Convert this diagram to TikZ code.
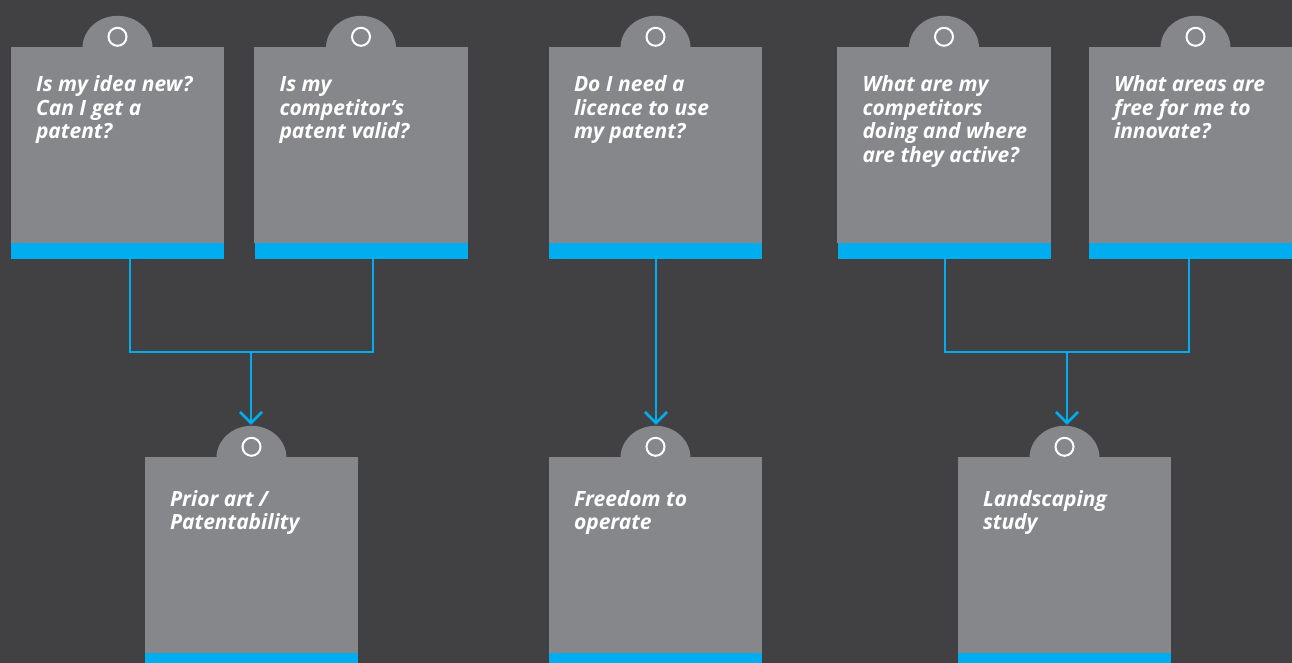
\documentclass[tikz,border=0pt]{standalone}
\usepackage{fontspec}
\setmainfont{Open Sans}
\usetikzlibrary{arrows.meta,calc}
\definecolor{bgc}{RGB}{65,65,67}
\definecolor{cardc}{RGB}{134,135,139}
\definecolor{bluec}{RGB}{0,174,239}
\tikzset{
  cardbody/.style={rectangle, inner sep=0pt, minimum width=213pt, minimum height=212pt, fill=bluec},
  cardtext/.style={anchor=north west, inner sep=0pt, align=left, text=white,
     font=\fontsize{21}{23.5}\selectfont\bfseries\itshape},
  conn/.style={draw=bluec, line width=2.6pt},
  arr/.style={-{Straight Barb[length=11pt,width=22pt,line width=2.6pt]}}
}
\newcommand\mkcard[5]{%
  \node[cardbody] (#1) at (#2,#3+106) {};
  \fill[cardc] (#1.north west) rectangle ([yshift=16pt]#1.south east);
  \fill[cardc] ([xshift=-35pt,yshift=-1pt]#1.north) arc[start angle=180,end angle=0,x radius=35pt,y radius=32pt] -- cycle;
  \draw[white,line width=2pt] ([yshift=10pt]#1.north) circle[radius=9pt];
  \node[cardtext] (#1t) at ([xshift=25pt,yshift=-#5pt+16.45pt]#1.north west) {\strut#4};
}
\begin{document}
\begin{tikzpicture}[x=1pt,y=-1pt]
\fill[bgc] (0,0) rectangle (1292,663);
\useasboundingbox (0,0) rectangle (1292,663);
\clip (0,0) rectangle (1292,663);
\mkcard{q1}{117.5}{47}{Is my idea new?\\Can I get a\\patent?}{45}
\mkcard{q2}{361}{47}{Is my\\competitor’s\\patent valid?}{45}
\mkcard{q3}{655.5}{47}{Do I need a\\licence to use\\my patent?}{45}
\mkcard{q4}{944}{47}{What are my\\competitors\\doing and where\\are they active?}{45}
\mkcard{q5}{1195.5}{47}{What areas are\\free for me to\\innovate?}{45}
\mkcard{b1}{251.5}{457}{Prior art /\\Patentability}{49}
\mkcard{b2}{655.5}{457}{Freedom to\\operate}{49}
\mkcard{b3}{1064.5}{457}{Landscaping\\study}{49}
\coordinate (m1) at (251,352);
\coordinate (m3) at (1067,352);
\draw[conn] ([xshift=12.5pt]q1.south) |- (m1) -| ([xshift=12pt]q2.south);
\draw[conn,arr] (m1) -- ([yshift=32pt]m1 |- b1.north);
\draw[conn,arr] ([xshift=0.5pt]q3.south) -- ([yshift=32pt,xshift=0.5pt]b2.north);
\draw[conn] ([xshift=1pt]q4.south) |- (m3) -| ([xshift=-6.5pt]q5.south);
\draw[conn,arr] (m3) -- ([yshift=32pt]m3 |- b3.north);
\end{tikzpicture}
\end{document}
